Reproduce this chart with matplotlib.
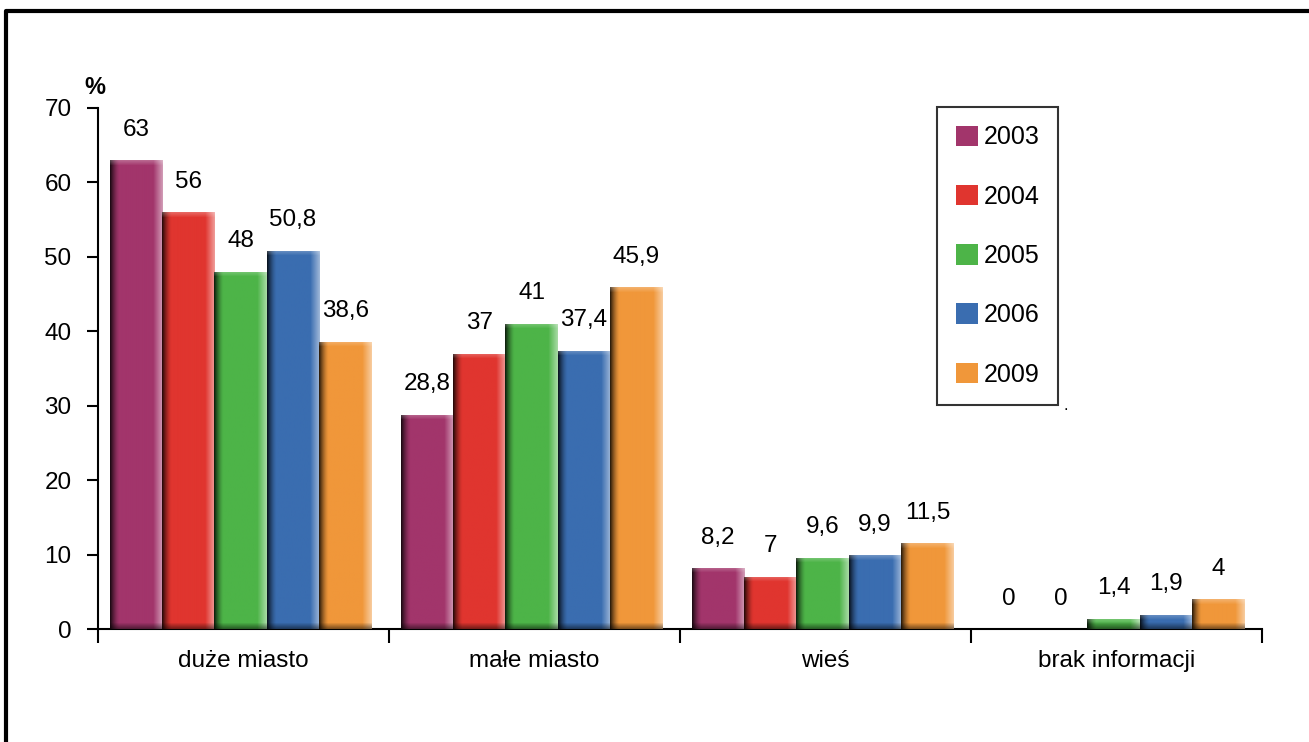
import numpy as np
import matplotlib.pyplot as plt
from matplotlib.lines import Line2D
from matplotlib.patches import Patch

plt.rcParams['font.family'] = ['Liberation Sans', 'DejaVu Sans']

# dane
kategorie = ['duże miasto', 'małe miasto', 'wieś', 'brak informacji']
lata = ['2003', '2004', '2005', '2006', '2009']
v2003 = [63, 28.8, 8.2, 0]
v2004 = [56, 37, 7, 0]
v2005 = [48, 41, 9.6, 1.4]
v2006 = [50.8, 37.4, 9.9, 1.9]
v2009 = [38.6, 45.9, 11.5, 4]
kolory = ['#A2356B', '#E0352F', '#4DB448', '#3A6DB0', '#F0973A']

serie = [v2003, v2004, v2005, v2006, v2009]

fig = plt.figure(figsize=(13.09, 7.42), dpi=100)
ax = fig.add_axes([98/1309, 1-629/742, (1262-98)/1309, (629-108)/742])

w = 0.18
x = np.arange(len(kategorie))
px_per_unit_y = (629 - 108) / 70.0
px_per_unit_x = (1262 - 98) / 4.0


def bevel(col, h_px, w_px):
    # prosty efekt "3D" krawedzi slupka
    rgb = np.array(plt.matplotlib.colors.to_rgb(col))
    rows = max(int(round(h_px)), 2)
    cols = max(int(round(w_px)), 2)
    img = np.tile(rgb, (rows, cols, 1))
    xx = np.arange(cols)[None, :, None]
    yy = np.arange(rows)[:, None, None]
    # lewa ciemna
    a = np.clip(1 - xx / 9.0, 0, 1) ** 1.5 * 0.8
    img = img * (1 - a)
    # prawa jasna
    b = np.clip((xx - (cols - 10)) / 10.0, 0, 1) * 0.55
    img = img * (1 - b) + b
    # gora jasna
    t = np.clip(1 - yy / 5.0, 0, 1) * 0.25
    img = img * (1 - t) + t
    # dol ciemny
    d = np.clip((yy - (rows - 7)) / 7.0, 0, 1) * 0.55
    img = img * (1 - d)
    return np.clip(img, 0, 1)


for i, (vals, c) in enumerate(zip(serie, kolory)):
    pos = x - 0.5 + 0.04 + w / 2 + i * w
    bars = ax.bar(pos, vals, w, color=c, zorder=2)
    for b, v in zip(bars, vals):
        if v <= 0:
            continue
        im = ax.imshow(bevel(c, v * px_per_unit_y, w * px_per_unit_x),
                       extent=(b.get_x(), b.get_x() + b.get_width(), 0, v),
                       aspect='auto', zorder=3, interpolation='bilinear')
        im.set_clip_path(b)
    ax.bar_label(bars, labels=[str(v).replace('.', ',') for v in vals],
                 padding=14, fontsize=17.5)

ax.set_xlim(-0.5, len(kategorie) - 0.5)
ax.set_ylim(0, 70)
ax.set_yticks(range(0, 71, 10))
ax.set_xticks(np.arange(-0.5, len(kategorie)))
ax.set_xticklabels([])
ax.set_xticks(x, minor=True)
ax.set_xticklabels(kategorie, minor=True, fontsize=17.5)
ax.tick_params(axis='x', which='major', length=10, width=1.5, direction='out')
ax.tick_params(axis='x', which='minor', length=0, pad=15)
ax.tick_params(axis='y', length=8, width=1.5, direction='out', labelsize=17.5, pad=11)
for s in ['top', 'right']:
    ax.spines[s].set_visible(False)
ax.spines['left'].set_linewidth(1.5)
ax.spines['bottom'].set_linewidth(1.5)

fig.text(95/1309, 1-88/742, '%', fontsize=17, fontweight='bold', ha='center', va='center')

handles = [Patch(facecolor=c, edgecolor='none') for c in kolory]
leg = fig.legend(handles, lata, loc='upper left', bbox_to_anchor=(937/1309, 1-107/742),
                 bbox_transform=fig.transFigure, borderaxespad=0, fontsize=18,
                 handlelength=0.88, handleheight=0.88, handletextpad=0.26,
                 labelspacing=1.41, borderpad=0.74, fancybox=False, shadow=False,
                 frameon=True, edgecolor='black')
leg.get_frame().set_linewidth(1.5)
fig.text(1066/1309, 1-405/742, '.', fontsize=12, ha='center', va='center')

# ramka
fig.add_artist(Line2D([6/1309, 6/1309, 1], [0, 1-11/742, 1-11/742],
                      color='black', lw=3, transform=fig.transFigure))

fig.savefig('out.png', dpi=100)
